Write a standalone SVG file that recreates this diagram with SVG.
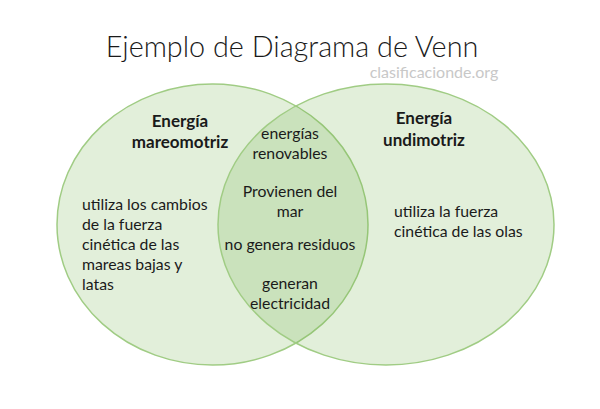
<svg xmlns="http://www.w3.org/2000/svg" width="600" height="409" viewBox="0 0 600 409">
<style>
.c{fill:#70ad47;fill-opacity:0.2;stroke:#a0cc84;stroke-width:1.5}
text{font-family:Lato,"Open Sans",sans-serif;fill:#1a1a1a}
.b{font-size:17px;font-weight:bold;text-anchor:middle}
.t{font-size:15.8px}
.m{font-size:15.8px;text-anchor:middle}
</style>
<rect width="600" height="409" fill="#fff"/>
<text x="292" y="57" style="font-size:28.8px;font-weight:300;text-anchor:middle" fill="#111">Ejemplo de Diagrama de Venn</text>
<text x="434" y="78" style="font-size:16px;text-anchor:middle;fill:#c8c8c8">clasificacionde.org</text>
<g id="left">
<ellipse class="c" cx="212.5" cy="224.5" rx="155.5" ry="140.5"/>
<text class="b" x="180" y="127">Energía</text>
<text class="b" x="180" y="148">mareomotriz</text>
<text class="t" x="82" y="210">utiliza los cambios</text>
<text class="t" x="82" y="230">de la fuerza</text>
<text class="t" x="82" y="250">cinética de las</text>
<text class="t" x="82" y="270">mareas bajas y</text>
<text class="t" x="82" y="290">latas</text>
</g>
<g id="right">
<ellipse class="c" cx="386" cy="224.5" rx="168" ry="140.5"/>
<text class="b" x="424" y="124">Energía</text>
<text class="b" x="424" y="146">undimotriz</text>
<text class="t" x="394" y="217">utiliza la fuerza</text>
<text class="t" x="394" y="237">cinética de las olas</text>
</g>
<g id="intersection">
<text class="m" x="290" y="139">energías</text>
<text class="m" x="290" y="159">renovables</text>
<text class="m" x="290" y="197">Provienen del</text>
<text class="m" x="290" y="217">mar</text>
<text class="m" x="290" y="250">no genera residuos</text>
<text class="m" x="290" y="289">generan</text>
<text class="m" x="290" y="309">electricidad</text>
</g>
<g id="connectors"></g>
</svg>
